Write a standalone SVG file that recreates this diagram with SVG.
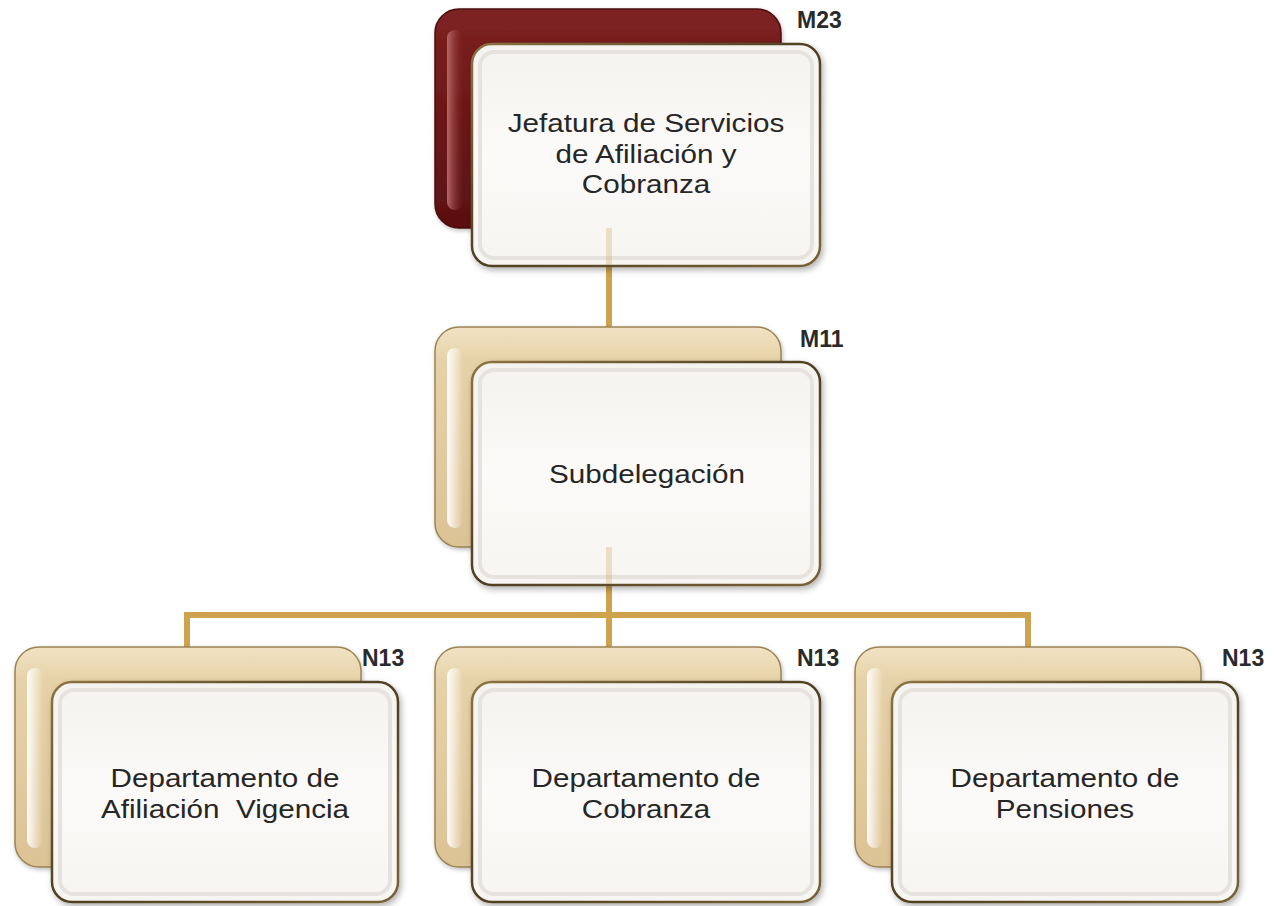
<svg xmlns="http://www.w3.org/2000/svg" width="1283" height="906" viewBox="0 0 1283 906">
<defs>
<linearGradient id="gRed" x1="0" y1="0" x2="0" y2="1">
<stop offset="0" stop-color="#7E2222"/><stop offset="0.5" stop-color="#6B1717"/><stop offset="1" stop-color="#5A1010"/>
</linearGradient>
<linearGradient id="gTan" x1="0" y1="0" x2="0" y2="1">
<stop offset="0" stop-color="#F1E3C4"/><stop offset="0.15" stop-color="#E6D2A8"/><stop offset="1" stop-color="#DCC396"/>
</linearGradient>
<linearGradient id="gHiRed" x1="0" y1="0" x2="1" y2="0">
<stop offset="0" stop-color="#C07070" stop-opacity="0.9"/><stop offset="1" stop-color="#8A3030" stop-opacity="0"/>
</linearGradient>
<linearGradient id="gHiTan" x1="0" y1="0" x2="1" y2="0">
<stop offset="0" stop-color="#FFFFFF" stop-opacity="0.95"/><stop offset="1" stop-color="#FFFFFF" stop-opacity="0"/>
</linearGradient>
<linearGradient id="gFront" x1="0" y1="0" x2="0" y2="1">
<stop offset="0" stop-color="#F5F3F0"/><stop offset="0.5" stop-color="#FBFAF8"/><stop offset="1" stop-color="#F7F5F2"/>
</linearGradient>
<linearGradient id="gEdge" x1="0" y1="0" x2="1" y2="1">
<stop offset="0" stop-color="#8C7442"/><stop offset="0.5" stop-color="#4E3E22"/><stop offset="1" stop-color="#7A6236"/>
</linearGradient>
<filter id="sh" x="-10%" y="-10%" width="125%" height="125%">
<feDropShadow dx="2" dy="3" stdDeviation="3" flood-color="#000" flood-opacity="0.3"/>
</filter>
<filter id="sh2" x="-10%" y="-10%" width="125%" height="125%">
<feDropShadow dx="1" dy="2" stdDeviation="2" flood-color="#000" flood-opacity="0.25"/>
</filter>
</defs>
<style>
.conn{stroke:#CFA24D;stroke-width:6;fill:none}
.faint{stroke:#CFA24D;stroke-width:6;opacity:0.28}
.backRed{fill:url(#gRed);stroke:#4A0E0E;stroke-width:1.5}
.backTan{fill:url(#gTan);stroke:#9C8455;stroke-width:1.5}
.hiRed{fill:url(#gHiRed)}
.hiTan{fill:url(#gHiTan)}
.front{fill:url(#gFront);stroke:url(#gEdge);stroke-width:2.5}
.bevel{fill:none;stroke:#E6E3DF;stroke-width:4}
.t{font-family:"Liberation Sans",Arial,sans-serif;font-size:26px;fill:#262626;text-anchor:middle}
.lab{font-family:"Liberation Sans",Arial,sans-serif;font-size:23px;font-weight:bold;fill:#2A2A2A}
</style>

<g id="connectors">
<line class="conn" x1="609" y1="225" x2="609" y2="330"/>
<line class="conn" x1="609" y1="545" x2="609" y2="650"/>
<polyline class="conn" points="187,650 187,615 1028,615 1028,650"/>
</g>

<g id="node-jefatura">
<rect class="backRed" x="435" y="9" width="346" height="219" rx="24" filter="url(#sh2)"/>
<rect class="hiRed" x="447" y="30" width="16" height="180" rx="8"/>
<rect class="front" x="472" y="44" width="348" height="222" rx="20" filter="url(#sh)"/>
<rect class="bevel" x="480" y="52" width="332" height="206" rx="14"/>
<line class="faint" x1="609" y1="228" x2="609" y2="265"/>
<text class="lab" x="797" y="28">M23</text>
<g transform="translate(646,0) scale(1.14,1)">
<text class="t" x="0" y="132">Jefatura de Servicios</text>
<text class="t" x="0" y="163">de Afiliación y</text>
<text class="t" x="0" y="193">Cobranza</text>
</g>
</g>

<g id="node-subdelegacion">
<rect class="backTan" x="435" y="327" width="346" height="220" rx="24" filter="url(#sh2)"/>
<rect class="hiTan" x="447" y="348" width="16" height="180" rx="8"/>
<rect class="front" x="472" y="362" width="348" height="223" rx="20" filter="url(#sh)"/>
<rect class="bevel" x="480" y="370" width="332" height="207" rx="14"/>
<line class="faint" x1="609" y1="547" x2="609" y2="584"/>
<text class="lab" x="800" y="347">M11</text>
<g transform="translate(647,0) scale(1.14,1)">
<text class="t" x="0" y="483">Subdelegación</text>
</g>
</g>

<g id="node-afiliacion">
<rect class="backTan" x="15" y="647" width="346" height="220" rx="24" filter="url(#sh2)"/>
<rect class="hiTan" x="27" y="668" width="16" height="180" rx="8"/>
<rect class="front" x="52" y="682" width="346" height="220" rx="20" filter="url(#sh)"/>
<rect class="bevel" x="60" y="690" width="330" height="204" rx="14"/>
<text class="lab" x="362" y="666">N13</text>
<g transform="translate(225,0) scale(1.14,1)">
<text class="t" x="0" y="787">Departamento de</text>
<text class="t" x="0" y="818" xml:space="preserve">Afiliación  Vigencia</text>
</g>
</g>

<g id="node-cobranza">
<rect class="backTan" x="435" y="647" width="346" height="220" rx="24" filter="url(#sh2)"/>
<rect class="hiTan" x="447" y="668" width="16" height="180" rx="8"/>
<rect class="front" x="472" y="682" width="348" height="220" rx="20" filter="url(#sh)"/>
<rect class="bevel" x="480" y="690" width="332" height="204" rx="14"/>
<text class="lab" x="797" y="666">N13</text>
<g transform="translate(646,0) scale(1.14,1)">
<text class="t" x="0" y="787">Departamento de</text>
<text class="t" x="0" y="818">Cobranza</text>
</g>
</g>

<g id="node-pensiones">
<rect class="backTan" x="855" y="647" width="346" height="220" rx="24" filter="url(#sh2)"/>
<rect class="hiTan" x="867" y="668" width="16" height="180" rx="8"/>
<rect class="front" x="892" y="682" width="346" height="220" rx="20" filter="url(#sh)"/>
<rect class="bevel" x="900" y="690" width="330" height="204" rx="14"/>
<text class="lab" x="1222" y="666">N13</text>
<g transform="translate(1065,0) scale(1.14,1)">
<text class="t" x="0" y="787">Departamento de</text>
<text class="t" x="0" y="818">Pensiones</text>
</g>
</g>
</svg>
